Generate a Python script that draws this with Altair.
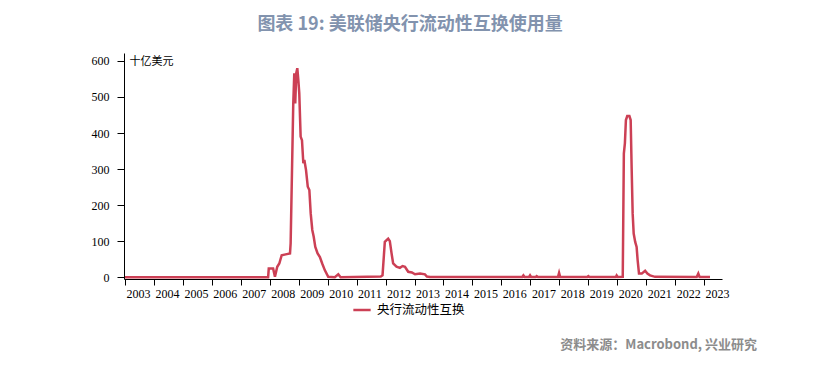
import altair as alt
import pandas as pd

TITLE = "图表 19: 美联储央行流动性互换使用量"
SOURCE = "资料来源：Macrobond, 兴业研究"
UNIT = "十亿美元"
SERIES = "央行流动性互换"

dates = [
    "2003-01-01", "2005-06-01", "2007-12-12", "2007-12-20", "2008-02-13", "2008-03-07",
    "2008-04-05", "2008-05-01", "2008-05-31", "2008-08-03", "2008-09-13", "2008-09-21",
    "2008-10-24", "2008-11-06", "2008-11-18", "2008-12-01", "2008-12-14", "2008-12-27",
    "2009-01-08", "2009-01-25", "2009-02-11", "2009-02-28", "2009-03-13", "2009-04-03",
    "2009-04-25", "2009-05-15", "2009-06-01", "2009-06-21", "2009-07-09", "2009-07-29",
    "2009-08-27", "2009-09-25", "2009-10-24", "2009-11-27", "2010-01-08", "2010-04-01",
    "2010-05-15", "2010-06-13", "2011-11-02", "2011-11-24", "2011-12-23", "2012-01-14",
    "2012-02-03", "2012-02-24", "2012-03-17", "2012-04-06", "2012-05-18", "2012-06-30",
    "2012-08-03", "2012-09-02", "2012-10-13", "2012-11-28", "2013-01-07", "2013-03-11",
    "2013-05-12", "2013-06-06", "2013-07-15", "2016-09-20", "2016-10-05", "2016-10-20",
    "2016-12-15", "2016-12-28", "2017-01-10", "2017-03-10", "2017-03-22", "2017-04-05",
    "2017-12-15", "2017-12-29", "2018-01-12", "2018-12-20", "2019-01-02", "2019-01-15",
    "2019-12-15", "2019-12-25", "2020-01-08", "2020-03-11", "2020-03-25", "2020-04-07",
    "2020-04-20", "2020-05-07", "2020-06-03", "2020-06-19", "2020-07-01", "2020-07-14",
    "2020-07-27", "2020-08-15", "2020-09-02", "2020-09-15", "2020-10-02", "2020-11-06",
    "2020-12-18", "2021-01-16", "2021-02-18", "2021-04-23", "2022-09-30", "2022-10-20",
    "2022-11-05", "2023-03-17",
]
values = [
    0, 0, 0, 24, 24, 1,
    29, 38, 61, 64, 66, 94,
    482, 566, 482, 566, 580, 547,
    510, 390, 380, 316, 325, 297,
    251, 242, 177, 131, 112, 84,
    66, 56, 38, 19, 1, 0,
    8, 0, 2, 5, 98, 103,
    107, 100, 66, 38, 29, 26,
    31, 29, 15, 13, 8, 10,
    8, 2, 0.5, 0.5, 5, 0.5,
    0.5, 5, 0.5, 0.5, 3, 0.5,
    0.5, 12, 0.5, 0.5, 3, 0.5,
    0.5, 5, 0.5, 1, 343, 371,
    436, 447, 447, 436, 306, 177,
    121, 98, 84, 47, 10, 10,
    18, 10, 5, 1, 0.5, 10,
    0.5, 0.5,
]
years = list(range(2003, 2024))
y_ticks = [0, 100, 200, 300, 400, 500, 600]

df = pd.DataFrame({"date": dates, "value": values, "series": SERIES})

LINE_COLOR = "#CC4055"
SERIF = "Liberation Serif"
CJK = "Noto Sans CJK SC"

line = alt.Chart(df).mark_line(strokeWidth=2.5, clip=True).encode(
    x=alt.X(
        "date:T",
        scale=alt.Scale(domain=[alt.DateTime(year=2002, month=12, date=20),
                                alt.DateTime(year=2023, month=8, date=15)]),
        axis=alt.Axis(
            values=[alt.DateTime(year=y) for y in years],
            format="%Y", title=None, grid=False,
            labelAlign="left", labelOffset=1, labelFlush=False,
            labelFont=SERIF, labelFontSize=12, labelColor="black",
            tickSize=6, tickColor="black", domainColor="black",
            labelPadding=3, labelOverlap=False,
        ),
    ),
    y=alt.Y(
        "value:Q",
        scale=alt.Scale(domain=[-5, 622], nice=False, zero=False),
        axis=alt.Axis(
            values=y_ticks, title=UNIT, titleAngle=0, titleAlign="left",
            titleX=5, titleY=8, titleBaseline="middle", titleFont=CJK,
            titleFontSize=11, titleFontWeight="normal", titleColor="black",
            grid=False, labelFont=SERIF, labelFontSize=12, labelColor="black",
            tickSize=7, tickColor="black", domainColor="black", labelPadding=8,
        ),
    ),
    color=alt.Color(
        "series:N",
        scale=alt.Scale(range=[LINE_COLOR]),
        legend=alt.Legend(
            title=None, orient="none", legendX=228, legendY=247,
            symbolType="stroke", symbolSize=300, symbolStrokeWidth=2.5,
            labelFont=CJK, labelFontSize=12.5, labelColor="black", labelOffset=5,
        ),
    ),
)

title = alt.Chart(pd.DataFrame({"t": [TITLE]})).mark_text(
    font=CJK, fontSize=18, fontWeight="bold", color="#8293AE",
    align="center", baseline="middle",
).encode(text="t:N", x=alt.value(286), y=alt.value(-28))

source = alt.Chart(pd.DataFrame({"t": [SOURCE]})).mark_text(
    font=CJK, fontSize=13, fontWeight="bold", color="#8C8C8C",
    align="right", baseline="middle",
).encode(text="t:N", x=alt.value(633), y=alt.value(292))

chart = alt.layer(line, title, source).properties(
    width=598, height=226,
    background="white",
    autosize=alt.AutoSizeParams(type="none"),
    padding={"left": 116, "top": 45, "right": 89, "bottom": 86},
).configure_view(stroke=None)

chart.save("out.html", embed_options={"renderer": "svg", "actions": False})
